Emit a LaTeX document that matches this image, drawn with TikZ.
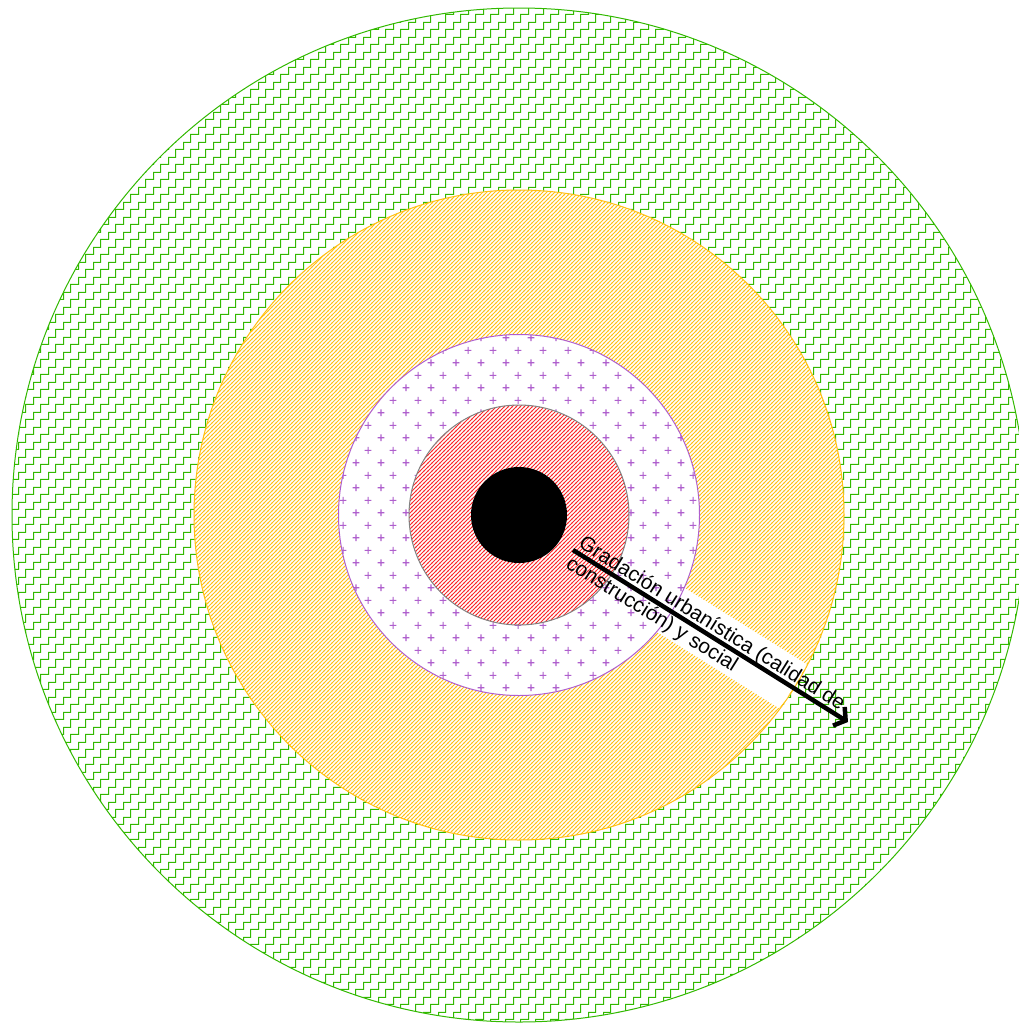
\documentclass[tikz,border=0pt]{standalone}
\usepackage{fontspec}
\newfontfamily\labelfont{Liberation Sans}
\usetikzlibrary{patterns,arrows.meta}
\definecolor{greenc}{RGB}{50,185,0}
\definecolor{orangec}{RGB}{255,192,20}
\definecolor{redc}{RGB}{250,40,40}
\definecolor{purplec}{RGB}{175,95,205}
\definecolor{grayc}{RGB}{130,130,130}
\pgfdeclarepatternformonly{stairs}{\pgfpointorigin}{\pgfpoint{15pt}{15pt}}{\pgfpoint{15pt}{15pt}}{%
  \pgfsetlinewidth{1.05pt}%
  \pgfpathmoveto{\pgfpoint{-1pt}{3.75pt}}%
  \pgfpathlineto{\pgfpoint{3.75pt}{3.75pt}}%
  \pgfpathlineto{\pgfpoint{3.75pt}{11.25pt}}%
  \pgfpathlineto{\pgfpoint{11.25pt}{11.25pt}}%
  \pgfpathlineto{\pgfpoint{11.25pt}{16pt}}%
  \pgfpathmoveto{\pgfpoint{11.25pt}{-1pt}}%
  \pgfpathlineto{\pgfpoint{11.25pt}{3.75pt}}%
  \pgfpathlineto{\pgfpoint{16pt}{3.75pt}}%
  \pgfusepath{stroke}}
\pgfdeclarepatternformonly{hatch}{\pgfpoint{-1pt}{-1pt}}{\pgfpoint{5pt}{5pt}}{\pgfpoint{4pt}{4pt}}{%
  \pgfsetlinewidth{0.8pt}%
  \pgfpathmoveto{\pgfpoint{-0.5pt}{-0.5pt}}%
  \pgfpathlineto{\pgfpoint{4.5pt}{4.5pt}}%
  \pgfusepath{stroke}}
\pgfdeclarepatternformonly{pluses}{\pgfpointorigin}{\pgfpoint{25pt}{25.4pt}}{\pgfpoint{25pt}{25.4pt}}{%
  \pgfsetlinewidth{1.1pt}%
  \pgfpathmoveto{\pgfpoint{2.75pt}{6.35pt}}\pgfpathlineto{\pgfpoint{9.75pt}{6.35pt}}%
  \pgfpathmoveto{\pgfpoint{6.25pt}{2.85pt}}\pgfpathlineto{\pgfpoint{6.25pt}{9.85pt}}%
  \pgfpathmoveto{\pgfpoint{15.25pt}{19.05pt}}\pgfpathlineto{\pgfpoint{22.25pt}{19.05pt}}%
  \pgfpathmoveto{\pgfpoint{18.75pt}{15.55pt}}\pgfpathlineto{\pgfpoint{18.75pt}{22.55pt}}%
  \pgfusepath{stroke}}
\tikzset{
  ring/.style={line width=1pt},
  labeltext/.style={rotate=-32, anchor=base west, inner sep=0pt,
    font=\labelfont\fontsize{20.7}{24}\selectfont},
  gradarrow/.style={line width=4.5pt, -{Straight Barb[length=8pt,width=22pt]}}
}
\begin{document}
\begin{tikzpicture}[x=1pt,y=-1pt]
\useasboundingbox (0,0) rectangle (1018,1023);
\fill[white] (0,0) rectangle (1018,1023);
\coordinate (C) at (519,515);
\coordinate (A) at (573,550);
\coordinate (B) at (848,722);
% outer green zone
\path[ring, draw=greenc, pattern=stairs, pattern color=greenc] (C) circle[radius=507pt];
% orange zone
\path[ring, draw=orangec, preaction={fill=white}, pattern=hatch, pattern color=orangec] (C) circle[radius=325pt];
% white label background (visible only in the orange zone)
\begin{scope}
  \clip (C) circle[radius=324pt];
  \begin{scope}[shift={(A)}, rotate=-32]
    \fill[white] (0,-27) rectangle (330,25);
  \end{scope}
\end{scope}
% purple zone
\path[ring, draw=purplec, preaction={fill=white}, pattern=pluses, pattern color=purplec] (C) circle[radius=180.5pt];
% red zone
\path[ring, draw=grayc, preaction={fill=white}, pattern=hatch, pattern color=redc] (C) circle[radius=110pt];
% black core
\fill[black] (C) circle[radius=48pt];
% arrow and label
\draw[gradarrow] (A) -- (B);
\begin{scope}[shift={(A)}, rotate=-32]
  \node[labeltext] (lbl) at (2,-5) {\vtop{\hbox{Gradación urbanística (calidad de}\hbox{construcción) y social}}};
\end{scope}
\end{tikzpicture}
\end{document}
